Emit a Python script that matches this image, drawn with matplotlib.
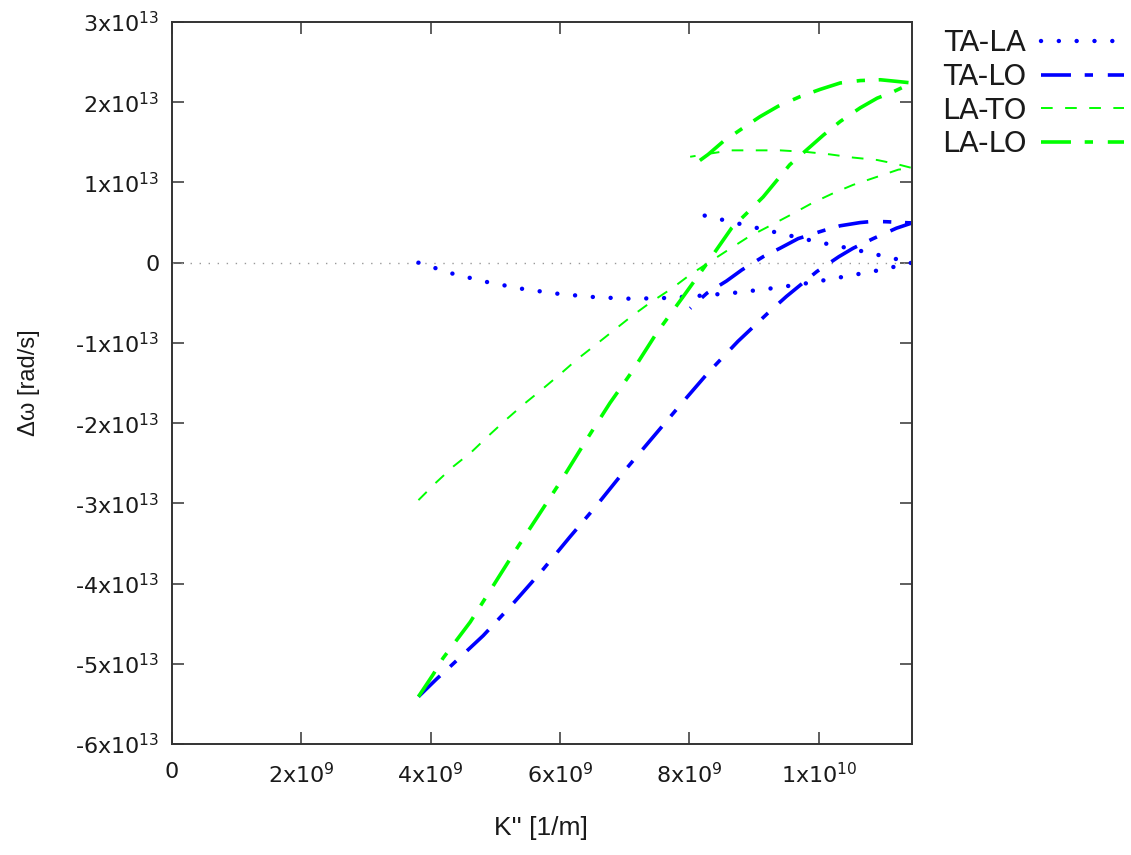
import numpy as np
import matplotlib
matplotlib.use('agg')
import matplotlib.pyplot as plt

# K'' in units of 1e9 1/m, delta omega in units of 1e13 rad/s
# every curve runs out to the right edge and comes back to ~8e9
k_ta_la = [3.81, 4.35, 4.89, 5.44, 5.99, 6.54, 7.10, 7.65, 8.20, 8.77, 9.32, 9.87,
           10.42, 10.96, 11.44, 11.06, 10.52, 9.97, 9.43, 8.90, 8.06]
w_ta_la = [0.0, -0.14, -0.245, -0.33, -0.39, -0.43, -0.45, -0.44, -0.41, -0.37, -0.315, -0.25,
           -0.17, -0.09, 0.0, 0.07, 0.17, 0.26, 0.36, 0.46, 0.62]

k_ta_lo = [3.81, 4.09, 4.32, 4.81, 5.25, 5.72, 6.15, 6.54, 6.98, 7.42, 7.83, 8.29, 8.75,
           9.21, 9.50, 9.97, 10.31, 10.53, 10.84, 11.20, 11.44,
           11.05, 10.84, 10.64, 10.33, 10.07, 9.68, 9.40, 9.14, 8.81, 8.57, 8.27, 8.01]
w_ta_lo = [-5.41, -5.19, -5.02, -4.65, -4.27, -3.84, -3.42, -3.05, -2.61, -2.19, -1.80, -1.37, -0.98,
           -0.63, -0.42, -0.11, 0.075, 0.18, 0.30, 0.43, 0.495,
           0.51, 0.515, 0.50, 0.46, 0.40, 0.30, 0.18, 0.075, -0.09, -0.23, -0.38, -0.57]

k_la_to = [3.81, 4.07, 4.35, 4.63, 4.89, 5.16, 5.43, 5.72, 6.00, 6.27, 6.54, 6.82, 7.11,
           7.39, 7.73, 8.01, 8.60, 8.91, 9.22, 9.55, 9.89, 10.22, 10.53, 10.90, 11.23, 11.44,
           11.20, 10.90, 10.53, 10.17, 9.81, 9.40, 8.99, 8.63, 8.32, 8.01]
w_la_to = [-2.96, -2.75, -2.54, -2.36, -2.16, -1.96, -1.77, -1.58, -1.39, -1.20, -1.03, -0.85, -0.665,
           -0.50, -0.32, -0.15, 0.16, 0.32, 0.45, 0.59, 0.74, 0.865, 0.97, 1.07, 1.16, 1.18,
           1.23, 1.28, 1.31, 1.35, 1.38, 1.40, 1.40, 1.40, 1.36, 1.32]

k_la_lo = [3.81, 4.04, 4.19, 4.61, 4.94, 5.30, 5.69, 6.03, 6.39, 6.77, 7.11, 7.49, 7.91,
           8.27, 8.65, 8.89, 9.14, 9.55, 10.07, 10.33, 10.64, 10.90, 11.15, 11.44,
           11.20, 10.95, 10.64, 10.33, 10.02, 9.71, 9.37, 9.09, 8.83, 8.52, 8.29, 8.00]
w_la_lo = [-5.41, -5.13, -4.93, -4.48, -4.06, -3.60, -3.12, -2.70, -2.23, -1.75, -1.36, -0.88, -0.415,
           -0.01, 0.43, 0.62, 0.82, 1.22, 1.59, 1.76, 1.93, 2.05, 2.13, 2.24,
           2.26, 2.28, 2.27, 2.24, 2.16, 2.07, 1.95, 1.82, 1.68, 1.51, 1.35, 1.18]

xticks = [0, 2e9, 4e9, 6e9, 8e9, 1e10]
xlabels = ['0', '2x10$^{9}$', '4x10$^{9}$', '6x10$^{9}$', '8x10$^{9}$', '1x10$^{10}$']
yticks = [3e13, 2e13, 1e13, 0, -1e13, -2e13, -3e13, -4e13, -5e13, -6e13]
ylabels = ['3x10$^{13}$', '2x10$^{13}$', '1x10$^{13}$', '0', '-1x10$^{13}$', '-2x10$^{13}$',
           '-3x10$^{13}$', '-4x10$^{13}$', '-5x10$^{13}$', '-6x10$^{13}$']

fig = plt.figure(figsize=(11.31, 8.55), dpi=100)
ax = fig.add_axes([172 / 1131, 111 / 855, 740 / 1131, 722 / 855])

xmin, xmax = 0, 11.44e9
ax.plot([xmin, xmax], [0, 0], color='#999999', lw=1.0, linestyle=(0, (1, 5.5)))

blue = '#0000ff'
green = '#00ff00'
ax.plot(np.array(k_ta_la) * 1e9, np.array(w_ta_la) * 1e13, color=blue, lw=3.2,
        linestyle=(0, (0.01, 4.0)), dash_capstyle='round', label='TA-LA')
ax.plot(np.array(k_ta_lo) * 1e9, np.array(w_ta_lo) * 1e13, color=blue, lw=2.6,
        linestyle=(0, (8.3, 3.8, 2.3, 4.1)), label='TA-LO')
ax.plot(np.array(k_la_to) * 1e9, np.array(w_la_to) * 1e13, color=green, lw=1.4,
        linestyle=(0, (6.0, 6.4)), label='LA-TO')
ax.plot(np.array(k_la_lo) * 1e9, np.array(w_la_lo) * 1e13, color=green, lw=2.6,
        linestyle=(0, (8.3, 3.8, 2.3, 4.1)), label='LA-LO')

ax.set_xlim(xmin, xmax)
ax.set_ylim(-6e13, 3e13)
ax.set_xticks(xticks)
ax.set_xticklabels(xlabels)
ax.set_yticks(yticks)
ax.set_yticklabels(ylabels)
ax.tick_params(direction='in', length=8.5, width=1.1, labelsize=16, color='#333333',
               labelcolor='#1a1a1a', top=True, right=True)
ax.tick_params(axis='x', pad=13)
ax.tick_params(axis='y', pad=9)
for s in ax.spines.values():
    s.set_linewidth(1.4)
    s.set_color('#333333')

lab_font = ['Liberation Sans Narrow', 'Liberation Sans', 'DejaVu Sans']
ax.set_xlabel("K'' [1/m]", fontsize=19, family=lab_font, color='#1a1a1a')
ax.set_ylabel('\u0394\u03c9 [rad/s]', fontsize=17, family=lab_font, color='#1a1a1a')
ax.xaxis.set_label_coords(0.499, -0.100)
ax.yaxis.set_label_coords(-0.178, 0.5)

leg = fig.legend(loc='upper right', bbox_to_anchor=(1124 / 1131, 1 - 29 / 855), frameon=False,
                 markerfirst=False, fontsize=21, handlelength=2.85, handletextpad=0.5,
                 labelspacing=0.2, borderpad=0, borderaxespad=0)
for t in leg.get_texts():
    t.set_color('#1a1a1a')

fig.savefig('out.png', dpi=100)
